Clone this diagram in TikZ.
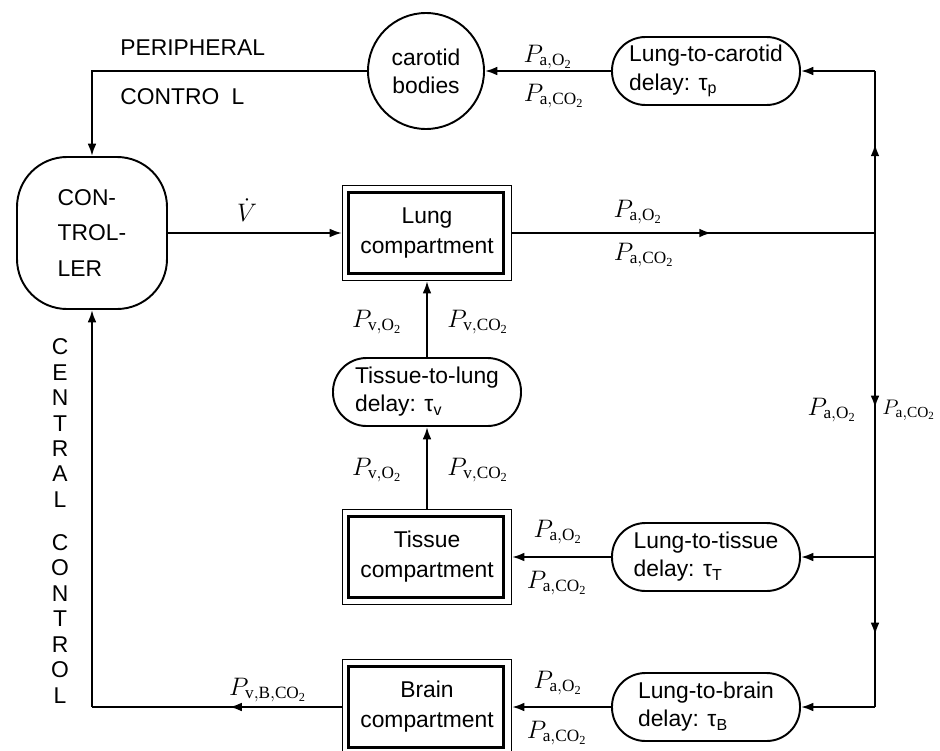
\documentclass[tikz,border=0pt]{standalone}
\usepackage{amsmath}
\usepackage{fontspec}
\setmainfont{Liberation Serif}
\setsansfont{Liberation Sans}
\usetikzlibrary{arrows.meta,decorations.markings}

\tikzset{
  conn/.style = {line width=1.2pt, -{Latex[length=7pt,width=5pt]}},
  arrowat/.style = {line width=1.2pt, postaction={decorate},
    decoration={markings, mark=at position #1 with {\arrow{Latex[length=7pt,width=5pt]}}}},
  comp/.style = {draw, line width=0.6pt, minimum width=33.8mm, minimum height=19mm,
    align=center, font=\sffamily\fontsize{13}{17}\selectfont},
  delaybox/.style = {draw, line width=1.1pt, rounded corners=6.7mm, minimum width=37.6mm,
    minimum height=13.6mm, align=left, font=\sffamily\fontsize{13}{16}\selectfont},
  lbl/.style = {inner sep=0pt, font=\fontsize{14}{16}\selectfont},
  caps/.style = {inner sep=0pt, font=\sffamily\fontsize{13}{16}\selectfont}
}

\begin{document}
\begin{tikzpicture}[x=0.2mm, y=-0.2mm]
    \useasboundingbox (0,0) rectangle (940,750);
    % blocks:
    \node[draw, line width=1.1pt, rounded corners=10mm, minimum width=30mm, minimum height=30.4mm,
      align=left, font=\sffamily\fontsize{13}{20}\selectfont] (ctrl) at (92,233) {CON-\\TROL-\\LER};
    \node[draw, circle, line width=1.1pt, minimum size=23.2mm, align=center,
      font=\sffamily\fontsize{13}{16}\selectfont] (carotid) at (426,71) {carotid\\bodies};
    \node[comp] (lung) at (427,233) {Lung\\compartment};
    \node[comp] (tissue) at (427,557) {Tissue\\compartment};
    \node[comp] (brain) at (427,707) {Brain\\compartment};
    \foreach \n in {lung,tissue,brain}
      \draw[line width=1.7pt] ([shift={(7,8)}]\n.north west) rectangle ([shift={(-9,-8)}]\n.south east);
    \node[delaybox] (dcar) at (706,71) {Lung-to-carotid\\delay: τ\textsubscript{p}};
    \node[delaybox] (dven) at (427,392) {Tissue-to-lung\\delay: τ\textsubscript{v}};
    \node[delaybox] (dtis) at (706,557) {Lung-to-tissue\\delay: τ\textsubscript{T}};
    \node[delaybox] (dbrain) at (706,707) {Lung-to-brain\\delay: τ\textsubscript{B}};
    % corners:
    \coordinate (ctop) at (92,71);
    \coordinate (cbot) at (92,707);
    \coordinate (jtop) at (875,71);
    \coordinate (jlung) at (875,233);
    \coordinate (jtis) at (875,557);
    \coordinate (jbrain) at (875,707);
    % lines:
    \draw[conn] (ctrl) -- (lung);
    \draw[arrowat=0.55, line width=1.5pt] (lung) -- (jlung);
    \draw[arrowat=0.55] (jlung) -- (jtop);
    \draw[conn] (jtop) -- (dcar);
    \draw[conn] (dcar) -- (carotid);
    \draw[conn] (carotid) -- (ctop) -- (ctrl);
    \draw[arrowat=0.54] (jlung) -- (jtis);
    \draw[arrowat=0.52] (jtis) -- (jbrain);
    \draw[conn] (jtis) -- (dtis);
    \draw[conn] (jbrain) -- (dbrain);
    \draw[conn] (dtis) -- (tissue);
    \draw[conn] (dbrain) -- (brain);
    \draw[conn] (tissue) -- (dven);
    \draw[conn] (dven) -- (lung);
    \draw[arrowat=0.45] (brain) -- (cbot);
    \draw[conn] (cbot) -- (ctrl);
    % labels:
    \node[caps, anchor=west] (peri) at (120,48) {PERIPHERAL};
    \node[caps, anchor=west] (contro) at (120,97) {CONTRO\hspace{7pt}L};
    \node[caps, align=center, font=\sffamily\fontsize{13}{14.5}\selectfont] (central) at (60,521)
      {C\\E\\N\\T\\R\\A\\L\\[10pt]C\\O\\N\\T\\R\\O\\L};
    \node[lbl] (vdot) at (247,210) {$\dot{V}$};
    \node[lbl] (cao) at (548,57) {$P_{\mathrm{a,O_2}}$};
    \node[lbl] (cac) at (554,96) {$P_{\mathrm{a,CO_2}}$};
    \node[lbl] (lao) at (638,212) {$P_{\mathrm{a,O_2}}$};
    \node[lbl] (lac) at (644,255) {$P_{\mathrm{a,CO_2}}$};
    \node[lbl] (rao) at (832,410) {$P_{\mathrm{a,O_2}}$};
    \node[lbl, anchor=west, font=\fontsize{12.5}{15}\selectfont] (rac) at (882,410) {$P_{\mathrm{a,CO_2}}$};
    \node[lbl] (tao) at (558,532) {$P_{\mathrm{a,O_2}}$};
    \node[lbl] (tac) at (557,583) {$P_{\mathrm{a,CO_2}}$};
    \node[lbl] (bao) at (558,683) {$P_{\mathrm{a,O_2}}$};
    \node[lbl] (bac) at (557,733) {$P_{\mathrm{a,CO_2}}$};
    \node[lbl] (vo1) at (377,322) {$P_{\mathrm{v,O_2}}$};
    \node[lbl] (vc1) at (478,322) {$P_{\mathrm{v,CO_2}}$};
    \node[lbl] (vo2) at (377,470) {$P_{\mathrm{v,O_2}}$};
    \node[lbl] (vc2) at (478,470) {$P_{\mathrm{v,CO_2}}$};
    \node[lbl] (vbc) at (268,690) {$P_{\mathrm{v,B,CO_2}}$};
\end{tikzpicture}
\end{document}
